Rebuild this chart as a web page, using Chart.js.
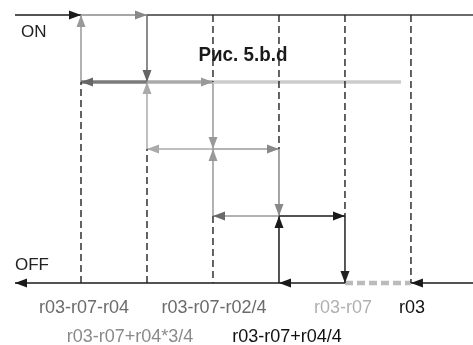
<!DOCTYPE html>
<html><head><meta charset="utf-8">
<script src="https://cdn.jsdelivr.net/npm/chart.js@4"></script>
<style>html,body{margin:0;padding:0;background:#fff}canvas{display:block}</style>
</head><body>
<canvas id="c" width="473" height="345"></canvas>
<script>
// ---- data (x = threshold index, y = state level: 0 = OFF, 4 = ON) ----
const thresholdLabels = ['r03-r07-r04','r03-r07+r04*3/4','r03-r07-r02/4','r03-r07+r04/4','r03-r07','r03'];
const thresholdX = [1,2,3,4,5,6];
const levelLabels = ['OFF','','','','ON'];
const xEnd = 6.94;
// segments: [x1, y1, x2, y2]
const onSegments = [[0,4,1,4],[1,4,2,4],[2,4,xEnd,4]];
const offSegments = [[xEnd,0,6,0],[5,0,6,0],[5,0,4,0],[4,0,0,0]];
const verticalSteps = [[1,3,1,4],[2,4,2,3],[2,2,2,3],[3,3,3,2],[3,1,3,2],[4,2,4,1],[4,0,4,1],[5,1,5,0]];
const horizontalSteps = [[2,3,1,3],[2,3,3,3],[3,3,5.85,3],[3,2,2,2],[3,2,4,2],[4,1,3,1],[4,1,5,1]];
const guides = [[1,0,1,3],[2,0,2,2],[3,4,3,3],[3,1,3,0],[4,4,4,2],[5,4,5,1],[6,4,6,0]];
const title = 'Рис. 5.b.d';

// ---- styles ----
const datasets = [];
function add(seg, color, width, arrow, arrowColor, dash){
  datasets.push({data:[{x:seg[0],y:seg[1]},{x:seg[2],y:seg[3]}],showLine:true,borderColor:color,borderWidth:width,
    pointRadius:0,pointHoverRadius:0,borderDash:dash||[],clip:false,arrow:!!arrow,arrowColor:arrowColor||color,borderCapStyle:'butt'});
}
guides.forEach(s=>add(s,'#222',1.4,false,null,[7,4]));
const hStyle = [['#7a7a7a',3.5,true,'#666'],['#aaaaaa',3.5,true,'#999'],['#cccccc',3.5,false],['#aaaaaa',1.5,true,'#aaa'],['#999999',1.5,true,'#888'],['#999999',1.5,true,'#6a6a6a'],['#1a1a1a',1.5,true,'#1a1a1a']];
horizontalSteps.forEach((s,i)=>add(s,hStyle[i][0],hStyle[i][1],hStyle[i][2],hStyle[i][3]));
const vStyle = [['#999999',true],['#666666',true],['#aaaaaa',true],['#999999',true],['#999999',true],['#888888',true],['#1a1a1a',true],['#222222',true]];
verticalSteps.forEach((s,i)=>add(s,vStyle[i][0],1.5,vStyle[i][1]));
const onStyle = [['#1a1a1a',true],['#888888',true],['#3a3a3a',false]];
onSegments.forEach((s,i)=>add(s,onStyle[i][0],1.5,onStyle[i][1]));
const offStyle = [['#1a1a1a',1.5,true,null],['#bbbbbb',4.5,false,[8,4]],['#1a1a1a',1.5,true,null],['#1a1a1a',1.5,true,null]];
offSegments.forEach((s,i)=>add(s,offStyle[i][0],offStyle[i][1],offStyle[i][2],null,offStyle[i][3]));

const arrowPlugin = {id:'arrows', afterDatasetsDraw(chart){
  const ctx = chart.ctx;
  chart.data.datasets.forEach((ds,i)=>{
    if(!ds.arrow) return;
    const m = chart.getDatasetMeta(i); const p0=m.data[0], p1=m.data[1];
    const a = Math.atan2(p1.y-p0.y, p1.x-p0.x);
    ctx.save(); ctx.translate(p1.x,p1.y); ctx.rotate(a);
    ctx.beginPath(); ctx.moveTo(0,0); ctx.lineTo(-12,-4.5); ctx.lineTo(-12,4.5); ctx.closePath();
    ctx.fillStyle = ds.arrowColor; ctx.fill(); ctx.restore();
  });
}};
const labelRow = [0,1,0,1,0,0];
const labelOffset = [3,-17,1,8,-2,1];
const labelColor = ['#6b6b6b','#8a8a8a','#6b6b6b','#111','#b0b0b0','#111'];
const textPlugin = {id:'texts',
  beforeDatasetsDraw(chart){
    const ctx=chart.ctx, xs=chart.scales.x, ys=chart.scales.y;
    ctx.save(); ctx.fillStyle='#1a1a1a'; ctx.font='bold 21px "Liberation Sans"'; ctx.textAlign='left'; ctx.textBaseline='alphabetic';
    ctx.fillText(title, xs.getPixelForValue(2.78), ys.getPixelForValue(3.31), 89);
    ctx.restore();
  },
  afterDraw(chart){
    const ctx=chart.ctx, xs=chart.scales.x, ys=chart.scales.y;
    ctx.save(); ctx.font='17px "Liberation Sans"'; ctx.textBaseline='alphabetic';
    ctx.textAlign='left'; ctx.fillStyle='#222';
    ctx.fillText(levelLabels[4], 21, ys.getPixelForValue(4)+22);
    ctx.fillText(levelLabels[0], 15, ys.getPixelForValue(0)-13);
    ctx.font='18px "Liberation Sans"';
    ctx.textAlign='center';
    thresholdLabels.forEach((t,i)=>{
      ctx.fillStyle=labelColor[i];
      const y = ys.getPixelForValue(0) + (labelRow[i] ? 59 : 30);
      ctx.fillText(t, xs.getPixelForValue(thresholdX[i]) + labelOffset[i], y);
    });
    ctx.restore();
  }};

new Chart(document.getElementById('c'), {
  type:'scatter',
  data:{datasets},
  options:{responsive:false, animation:false, events:[],
    layout:{padding:{left:15,right:0,top:15,bottom:62}},
    plugins:{legend:{display:false},tooltip:{enabled:false}},
    scales:{x:{type:'linear',min:0,max:xEnd,display:false},y:{type:'linear',min:0,max:4,display:false}}
  },
  plugins:[textPlugin, arrowPlugin]
});
</script>
</body></html>
